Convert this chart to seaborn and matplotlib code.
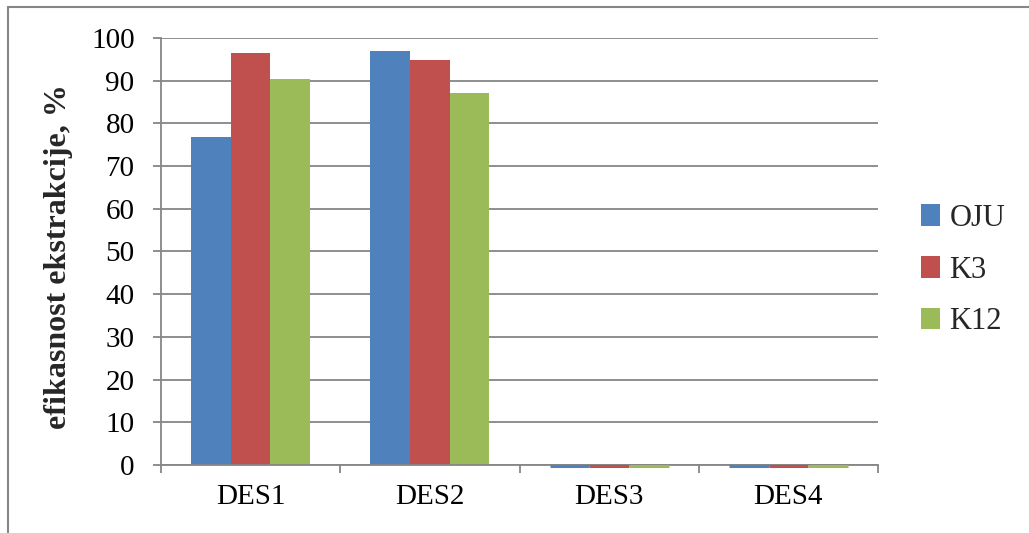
import matplotlib
matplotlib.use("Agg")
import matplotlib.pyplot as plt
from matplotlib.lines import Line2D
from matplotlib.patches import Patch
import seaborn as sns
import pandas as pd

categories = ["DES1", "DES2", "DES3", "DES4"]
series = ["OJU", "K3", "K12"]
oju = [76.8, 97.0, 0.0, 0.0]
k3 = [96.5, 94.8, 0.0, 0.0]
k12 = [90.4, 87.1, 0.0, 0.0]
y_ticks = [0, 10, 20, 30, 40, 50, 60, 70, 80, 90, 100]
colors = ["#4F81BD", "#C0504D", "#9BBB59"]

df = pd.DataFrame({
    "category": categories * 3,
    "series": [s for s in series for _ in categories],
    "value": oju + k3 + k12,
})

sns.set_theme(style="white")
plt.rcParams["font.family"] = ["Liberation Serif", "DejaVu Serif"]

fig = plt.figure(figsize=(10.29, 5.33), dpi=100)
ax = fig.add_axes([161 / 1029, 1 - 465 / 533, (878 - 161) / 1029, (465 - 38) / 533])

grid_c = "#868686"
ax.set_axisbelow(True)
for t in y_ticks:
    ax.axhline(t, color=grid_c, lw=1.3, zorder=0)

sns.barplot(data=df, x="category", y="value", hue="series", order=categories,
            hue_order=series, palette=colors, width=0.665, saturation=1,
            edgecolor="none", linewidth=0, legend=False, ax=ax, zorder=2)

# zero-height bars show as a thin coloured line on the baseline
for cont, col in zip(ax.containers, colors):
    for bar in cont:
        if bar.get_height() == 0:
            x0 = bar.get_x()
            ax.plot([x0, x0 + bar.get_width()], [-0.35, -0.35], color=col,
                    lw=2.2, solid_capstyle="butt", zorder=3, clip_on=False)

ax.set_xlim(-0.5, 3.5)
ax.set_ylim(0, 100)
ax.set_yticks(y_ticks)
ax.set_xticks([-0.5, 0.5, 1.5, 2.5, 3.5], minor=True)
ax.set_xticks(range(len(categories)))
ax.set_xticklabels(categories)

for s in ["top", "right"]:
    ax.spines[s].set_visible(False)
for s in ["left", "bottom"]:
    ax.spines[s].set_color(grid_c)
    ax.spines[s].set_linewidth(1.3)

ax.tick_params(axis="y", which="major", length=6, width=1.3, color=grid_c,
               direction="out", left=True, labelsize=21, pad=13, labelcolor="black")
ax.tick_params(axis="x", which="major", length=0, labelsize=21, pad=14,
               labelcolor="black")
ax.tick_params(axis="x", which="minor", length=6, width=1.3, color=grid_c,
               direction="out", bottom=True)

ax.set_xlabel("")
ax.set_ylabel("efikasnost ekstrakcije, %", fontsize=23, fontweight="bold")
ax.yaxis.set_label_coords(-0.123, 0.487)

handles = [Patch(facecolor=c, edgecolor="none") for c in colors]
fig.legend(handles, series, loc="center left", bbox_to_anchor=(909 / 1029, 1 - 270 / 533),
           frameon=False, fontsize=22, handlelength=0.62, handleheight=0.7,
           handletextpad=0.3, labelspacing=0.75, borderaxespad=0)

# outer chart border (left and top edges)
fig.add_artist(Line2D([8 / 1029, 8 / 1029], [0, 1 - 7 / 533], color=grid_c, lw=1.5,
                      transform=fig.transFigure))
fig.add_artist(Line2D([8 / 1029, 1], [1 - 7 / 533, 1 - 7 / 533], color=grid_c, lw=1.5,
                      transform=fig.transFigure))

fig.savefig("out.png", dpi=100)
